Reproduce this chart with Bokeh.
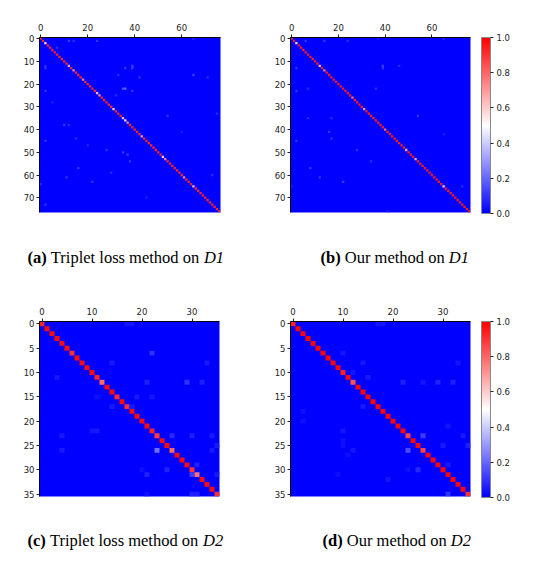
import numpy as np
from bokeh.plotting import figure
from bokeh.models import (LinearColorMapper, ColorBar, Range1d, ColumnDataSource,
                          FixedTicker, PrintfTickFormatter)
from bokeh.core.properties import value
from bokeh.layouts import column, row
from bokeh.embed import file_html
from bokeh.resources import INLINE

# ---------------- data ----------------
N1 = 77   # classes in D1
N2 = 36   # classes in D2

# D1, triplet loss: diagonal accuracy (default) and weaker classes
d1_trip_diag_default = 0.93
d1_trip_diag_idx = [2, 12, 14, 18, 24, 25, 31, 35, 36, 37, 43, 52, 53, 61, 65]
d1_trip_diag_val = [0.6, 0.68, 0.75, 0.75, 0.65, 0.75, 0.6, 0.66, 0.6, 0.75, 0.7, 0.6, 0.75, 0.75, 0.65]
# D1, triplet loss: confusions (row = true, col = predicted)
d1_trip_rows = [1, 1, 0, 1, 4, 13, 12, 12, 13, 13, 17, 16, 16, 17, 23, 22, 22, 23, 25, 34, 33, 38, 38, 44, 45, 49, 51, 50, 54, 57, 59, 63, 61, 64, 73, 60, 28, 41, 47, 70]
d1_trip_cols = [12, 24, 65, 14, 7, 2, 2, 39, 39, 36, 42, 33, 65, 71, 2, 36, 35, 39, 32, 54, 75, 10, 12, 15, 2, 28, 37, 35, 38, 16, 30, 22, 11, 0, 2, 73, 5, 60, 20, 45]
d1_trip_vals = [0.12, 0.1, 0.08, 0.08, 0.08, 0.1, 0.08, 0.12, 0.12, 0.1, 0.1, 0.08, 0.12, 0.08, 0.1, 0.2, 0.15, 0.1, 0.08, 0.1, 0.08, 0.1, 0.08, 0.08, 0.1, 0.08, 0.12, 0.12, 0.1, 0.1, 0.08, 0.1, 0.1, 0.08, 0.1, 0.08, 0.06, 0.06, 0.06, 0.06]

# D1, our method
d1_ours_diag_default = 0.95
d1_ours_diag_idx = [2, 12, 14, 26, 31, 40, 49, 53, 65]
d1_ours_diag_val = [0.6, 0.65, 0.78, 0.8, 0.72, 0.8, 0.68, 0.68, 0.6]
d1_ours_rows = [1, 1, 1, 0, 0, 12, 13, 12, 13, 23, 22, 22, 34, 35, 35, 41, 44, 45, 49, 54, 57, 61, 63, 65, 65, 42, 76]
d1_ours_cols = [6, 14, 24, 37, 65, 39, 39, 46, 2, 2, 7, 36, 54, 7, 17, 16, 17, 2, 28, 34, 8, 12, 22, 73, 0, 65, 41]
d1_ours_vals = [0.1, 0.1, 0.08, 0.06, 0.08, 0.12, 0.1, 0.08, 0.1, 0.1, 0.08, 0.08, 0.1, 0.08, 0.08, 0.1, 0.1, 0.1, 0.08, 0.08, 0.1, 0.1, 0.12, 0.08, 0.06, 0.06, 0.06]

# D2, triplet loss
d2_trip_diag_default = 0.98
d2_trip_diag_idx = [0, 6, 11, 12, 15, 17, 22, 23, 26, 30, 31, 35]
d2_trip_diag_val = [0.93, 0.9, 0.93, 0.8, 0.91, 0.91, 0.93, 0.88, 0.8, 0.9, 0.78, 0.9]
d2_trip_rows = [0, 0, 6, 8, 8, 11, 12, 12, 12, 15, 15, 15, 17, 17, 22, 22, 23, 23, 23, 23, 25, 26, 26, 26, 29, 30, 30, 31, 31, 31, 35, 35, 35]
d2_trip_cols = [17, 18, 22, 14, 33, 3, 21, 29, 32, 11, 19, 22, 14, 18, 10, 11, 4, 26, 30, 34, 35, 4, 23, 34, 31, 20, 25, 30, 21, 35, 30, 31, 21]
d2_trip_vals = [0.04, 0.04, 0.1, 0.05, 0.05, 0.05, 0.06, 0.1, 0.06, 0.03, 0.05, 0.04, 0.05, 0.05, 0.04, 0.05, 0.05, 0.08, 0.06, 0.05, 0.05, 0.05, 0.22, 0.05, 0.07, 0.03, 0.07, 0.12, 0.07, 0.05, 0.06, 0.06, 0.03]

# D2, our method
d2_ours_diag_default = 0.99
d2_ours_diag_idx = [0, 10, 12, 23, 26, 35]
d2_ours_diag_val = [0.93, 0.94, 0.84, 0.87, 0.87, 0.9]
d2_ours_rows = [0, 0, 6, 8, 8, 10, 11, 12, 12, 12, 12, 17, 18, 20, 21, 22, 23, 23, 24, 25, 25, 25, 26, 26, 27, 29, 30, 30, 31, 32, 35]
d2_ours_cols = [17, 18, 10, 14, 33, 12, 15, 22, 26, 29, 32, 14, 2, 2, 31, 10, 26, 34, 10, 10, 30, 35, 12, 23, 11, 31, 25, 23, 9, 19, 31]
d2_ours_vals = [0.04, 0.04, 0.04, 0.04, 0.04, 0.04, 0.05, 0.06, 0.04, 0.07, 0.06, 0.05, 0.03, 0.03, 0.04, 0.04, 0.12, 0.05, 0.03, 0.03, 0.05, 0.06, 0.04, 0.15, 0.03, 0.05, 0.08, 0.03, 0.03, 0.04, 0.1]

x_ticks_d1 = [0, 20, 40, 60]
y_ticks_d1 = [0, 10, 20, 30, 40, 50, 60, 70]
x_ticks_d2 = [0, 10, 20, 30]
y_ticks_d2 = [0, 5, 10, 15, 20, 25, 30, 35]
cbar_ticks = [0.0, 0.2, 0.4, 0.6, 0.8, 1.0]

captions_top = [("(a)", "Triplet loss method on", "D1"),
                ("(b)", "Our method on", "D1")]
captions_bottom = [("(c)", "Triplet loss method on", "D2"),
                   ("(d)", "Our method on", "D2")]


def build_matrix(n, diag_default, diag_idx, diag_val, rows, cols, vals):
    m = np.zeros((n, n))
    np.fill_diagonal(m, diag_default)
    for i, v in zip(diag_idx, diag_val):
        m[i, i] = v
    for r, c, v in zip(rows, cols, vals):
        m[r, c] = v
    return m


# blue-white-red palette
def bwr_palette(n=256):
    out = []
    for i in range(n):
        t = i / (n - 1)
        if t < 0.5:
            r = g = int(round(255 * 2 * t)); b = 255
        else:
            r = 255; g = b = int(round(255 * 2 * (1 - t)))
        out.append("#%02x%02x%02x" % (r, g, b))
    return out


PALETTE = bwr_palette()
mapper = LinearColorMapper(palette=PALETTE, low=0.0, high=1.0)

# Times metrics (1/1000 em) for laying out mixed-style captions
TIMES_REG = {" ": 250, "T": 611, "O": 722, "r": 333, "i": 278, "p": 500, "l": 278,
             "e": 444, "t": 278, "o": 500, "s": 389, "m": 778, "h": 500, "d": 500,
             "n": 500, "u": 500}
TIMES_BOLD = {"(": 333, ")": 333, "a": 500, "b": 556, "c": 444, "d": 556}
CAP_SIZE = 16.5


def text_width(s, table):
    return sum(table.get(ch, 500) for ch in s) * CAP_SIZE / 1000.0


TICK_FONT = "8.5px"
TICK_COLOR = "#222222"
HEAT_H = 220     # height of each heatmap canvas
CAP_H = 64       # height of each caption strip


def panel(mat, n, xt, yt, width, left, right, with_bar):
    p = figure(width=width, height=HEAT_H, min_border_left=left, min_border_right=right,
               min_border_top=37, min_border_bottom=HEAT_H - 37 - 175,
               x_range=Range1d(-0.5, n - 0.5), y_range=Range1d(n - 0.5, -0.5),
               x_axis_location="above", toolbar_location=None, tools="",
               output_backend="svg")
    # zero cells take the background colour; non-zero cells are drawn as rects
    rr, cc = np.nonzero(mat)
    src = ColumnDataSource(dict(row=rr.tolist(), col=cc.tolist(), v=mat[rr, cc].tolist()))
    p.rect(x="col", y="row", width=1, height=1, source=src,
           fill_color={"field": "v", "transform": mapper}, line_color=None)
    p.grid.visible = False
    p.outline_line_color = None
    p.background_fill_color = PALETTE[0]
    p.xaxis.ticker = FixedTicker(ticks=xt)
    p.yaxis.ticker = FixedTicker(ticks=yt)
    for ax in (p.xaxis[0], p.yaxis[0]):
        ax.axis_line_color = "black"
        ax.axis_line_width = 1
        ax.major_tick_in = 0
        ax.major_tick_out = 3
        ax.minor_tick_line_color = None
        ax.major_tick_line_color = TICK_COLOR
        ax.major_label_text_font = "DejaVu Sans"
        ax.major_label_text_font_size = TICK_FONT
        ax.major_label_text_color = TICK_COLOR
    p.xaxis.major_label_standoff = 4
    p.yaxis.major_label_standoff = 2

    if with_bar:
        cb = ColorBar(color_mapper=mapper, width=9, height=176,
                      location=(11, -1), padding=0, margin=0,
                      ticker=FixedTicker(ticks=cbar_ticks),
                      formatter=PrintfTickFormatter(format="%.1f"),
                      major_tick_in=0, major_tick_out=3,
                      major_tick_line_color=TICK_COLOR,
                      minor_tick_line_color=None,
                      major_label_text_font="DejaVu Sans",
                      major_label_text_font_size=TICK_FONT,
                      major_label_text_color=TICK_COLOR,
                      label_standoff=3,
                      bar_line_color="#888888", bar_line_width=1,
                      background_fill_color=None, border_line_color=None)
        p.add_layout(cb, "right")
    return p


def caption_strip(caps, xs, baseline):
    c = figure(width=540, height=CAP_H, x_range=Range1d(0, 540), y_range=Range1d(CAP_H, 0),
               min_border=0, toolbar_location=None, tools="", output_backend="svg")
    c.axis.visible = False
    c.grid.visible = False
    c.outline_line_color = None
    space = text_width(" ", TIMES_REG)
    for (bold, reg, ital), x0 in zip(caps, xs):
        x1 = x0 + text_width(bold, TIMES_BOLD) + space
        x2 = x1 + text_width(reg, TIMES_REG) + space
        common = dict(text_font=value("Liberation Serif"), text_font_size="%.1fpx" % CAP_SIZE,
                      text_color="black", text_baseline="alphabetic", text_align="left")
        c.text(x=[x0], y=[baseline], text=[bold], text_font_style="bold", **common)
        c.text(x=[x1], y=[baseline], text=[reg], text_font_style="normal", **common)
        c.text(x=[x2], y=[baseline], text=[ital], text_font_style="italic", **common)
    return c


m_a = build_matrix(N1, d1_trip_diag_default, d1_trip_diag_idx, d1_trip_diag_val,
                   d1_trip_rows, d1_trip_cols, d1_trip_vals)
m_b = build_matrix(N1, d1_ours_diag_default, d1_ours_diag_idx, d1_ours_diag_val,
                   d1_ours_rows, d1_ours_cols, d1_ours_vals)
m_c = build_matrix(N2, d2_trip_diag_default, d2_trip_diag_idx, d2_trip_diag_val,
                   d2_trip_rows, d2_trip_cols, d2_trip_vals)
m_d = build_matrix(N2, d2_ours_diag_default, d2_ours_diag_idx, d2_ours_diag_val,
                   d2_ours_rows, d2_ours_cols, d2_ours_vals)

pa = panel(m_a, N1, x_ticks_d1, y_ticks_d1, 250, 39, 30, False)
pb = panel(m_b, N1, x_ticks_d1, y_ticks_d1, 290, 40, 70, True)
pc = panel(m_c, N2, x_ticks_d2, y_ticks_d2, 250, 39, 31, False)
pd_ = panel(m_d, N2, x_ticks_d2, y_ticks_d2, 290, 40, 70, True)

cap1 = caption_strip(captions_top, [27, 320], 37)
cap2 = caption_strip(captions_bottom, [27, 322], 36)

layout = column(row(pa, pb), cap1, row(pc, pd_), cap2)

with open("out.html", "w") as f:
    f.write(file_html(layout, INLINE))
